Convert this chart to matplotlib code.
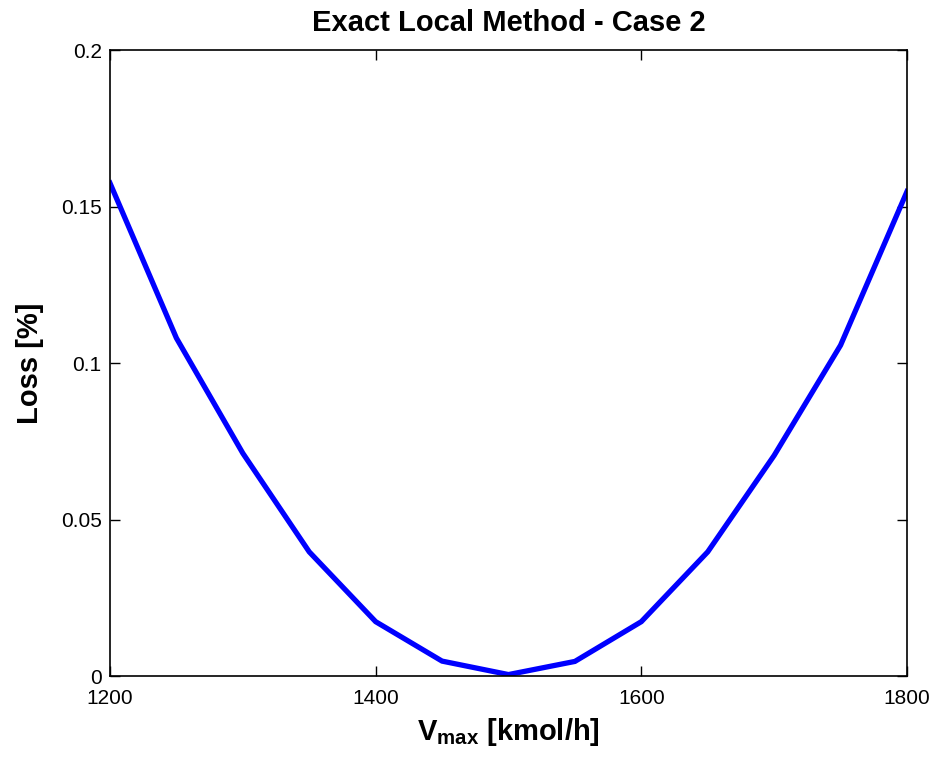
import matplotlib
matplotlib.use('Agg')
import matplotlib.pyplot as plt
from matplotlib import font_manager

# Loss versus maximum vapour flow
v_max = [1200, 1250, 1300, 1350, 1400, 1450, 1500, 1550, 1600, 1650, 1700, 1750, 1800]
loss = [0.1575, 0.108, 0.0712, 0.0397, 0.0174, 0.0048, 0.0005,
        0.0047, 0.0174, 0.0397, 0.0705, 0.1057, 0.1548]

x_ticks = [1200, 1400, 1600, 1800]
y_ticks = [0, 0.05, 0.1, 0.15, 0.2]
y_tick_labels = ['0', '0.05', '0.1', '0.15', '0.2']

names = {f.name for f in font_manager.fontManager.ttflist}
narrow = 'Liberation Sans Narrow' if 'Liberation Sans Narrow' in names else 'Liberation Sans'


def main():
    plt.rcParams['font.family'] = [narrow, 'DejaVu Sans']
    plt.rcParams['mathtext.fontset'] = 'custom'
    plt.rcParams['mathtext.rm'] = narrow
    plt.rcParams['mathtext.bf'] = narrow + ':bold'

    fig = plt.figure(figsize=(9.36, 7.58), dpi=100)
    ax = fig.add_axes([0.1175, 0.108, 0.8515, 0.826])

    ax.plot(v_max, loss, color='#0000ff', linewidth=3.8, solid_joinstyle='miter')

    ax.set_xlim(1200, 1800)
    ax.set_ylim(0, 0.2)
    ax.set_xticks(x_ticks)
    ax.set_yticks(y_ticks)
    ax.set_yticklabels(y_tick_labels)
    ax.tick_params(direction='in', top=True, right=True, length=7, width=1,
                   labelsize=15)
    ax.tick_params(axis='x', pad=9)
    ax.tick_params(axis='y', pad=6)
    for s in ax.spines.values():
        s.set_linewidth(1.2)

    ax.set_title('Exact Local Method - Case 2', fontsize=21, fontweight='bold', pad=14)
    ax.set_xlabel(r'V$_{\mathregular{max}}$ [kmol/h]', fontsize=21, fontweight='bold',
                  labelpad=6)
    ax.set_ylabel('Loss [%]', fontsize=21, fontweight='bold', labelpad=12)

    fig.savefig('out.png', dpi=100)


if __name__ == '__main__':
    main()
